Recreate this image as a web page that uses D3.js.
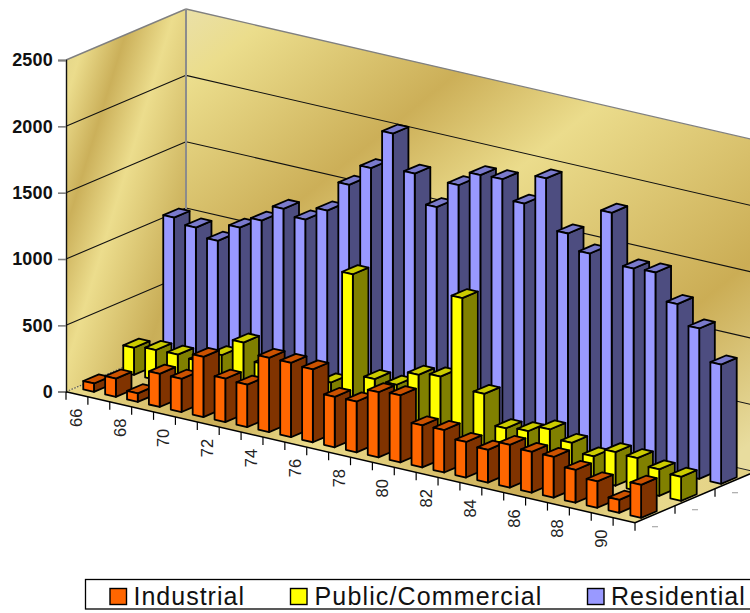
<!DOCTYPE html>
<html>
<head>
<meta charset="utf-8">
<script src="https://cdn.jsdelivr.net/npm/d3@7/dist/d3.min.js"></script>
<style>
  html, body { margin: 0; padding: 0; background: #fff; overflow: hidden; }
  svg { display: block; font-family: "Liberation Sans", Arial, sans-serif; }
</style>
</head>
<body>
<svg id="chart" width="750" height="613"></svg>
<script>
// Annual electricity use by sector, 1966-1991
const years = ["66","67","68","69","70","71","72","73","74","75","76","77","78",
               "79","80","81","82","83","84","85","86","87","88","89","90","91"];
const yearLabels = ["66","68","70","72","74","76","78","80","82","84","86","88","90"];
const valueTicks = [0, 500, 1000, 1500, 2000, 2500];
const sectors = ["Industrial", "Public/Commercial", "Residential"];

const industrial = [63, 138, 65, 250, 250, 453, 327, 320, 560, 560, 549, 380, 383,
                    491, 506, 317, 320, 268, 247, 322, 307, 307, 247, 199, 98, 249];
const publicCommercial = [204, 225, 228, 217, 300, 433, 307, 260, 280, 284, 1138, 386, 381,
                          494, 519, 1148, 464, 243, 259, 310, 247, 183, 253, 246, 199, 181];
const residential = [1057, 1020, 958, 1095, 1186, 1313, 1270, 1376, 1608, 1772, 2070, 1806, 1592,
                     1795, 1909, 1916, 1770, 1998, 1621, 1508, 1853, 1471, 1479, 1279, 1133, 899];

const seriesValues = [industrial, publicCommercial, residential];
const faceColors = [
  { front: "#FF6600", side: "#803300", top: "#CC5200" },
  { front: "#FFFF00", side: "#808000", top: "#CCCC00" },
  { front: "#9999FF", side: "#4D4D80", top: "#7A7ACC" }
];

const svg = d3.select("#chart");

// Oblique projection: u runs along the years, v runs into the depth of the chart
const origin = { x: 66, y: 391.7 };
const uStep = { x: 21.885, y: 5.04 };
const vStep = { x: 120, y: -51 };
const yScale = d3.scaleLinear().domain([0, 2500]).range([origin.y, 60]);
const uScale = d3.scaleBand().domain(years).range([0, years.length]);
const vScale = d3.scaleBand().domain(sectors).range([0, 1]);
const lift = v => origin.y - yScale(v);

function project(u, v, value = 0) {
  return [origin.x + u * uStep.x + v * vStep.x,
          origin.y + u * uStep.y + v * vStep.y - lift(value)];
}
const poly = pts => pts.map(p => p.map(n => n.toFixed(2)).join(",")).join(" ");
const line = (a, b) => `M${a[0]},${a[1]}L${b[0]},${b[1]}`;
const nU = years.length;

// Gold fills for the chart walls and floor
const defs = svg.append("defs");
function gradient(id, [x1, y1, x2, y2], stops) {
  const g = defs.append("linearGradient").attr("id", id)
    .attr("gradientUnits", "userSpaceOnUse")
    .attr("x1", x1).attr("y1", y1).attr("x2", x2).attr("y2", y2);
  stops.forEach(([o, c]) => g.append("stop").attr("offset", o).attr("stop-color", c));
}
gradient("leftWall", [66, 60, 254.5, 117.5], [
  [0, "#E6D88A"], [0.06, "#EBDC8C"], [0.25, "#CBB05A"], [0.456, "#ECDD8D"],
  [0.83, "#C9AE58"], [1, "#D0B860"]
]);
gradient("backWall", [186, 9, 620.7, 548], [
  [0, "#EAE0A8"], [0.086, "#EBDD8C"], [0.318, "#CCAF58"], [0.481, "#EBDC8C"],
  [0.796, "#CBAD55"], [1, "#E8DC9E"]
]);
gradient("floor", [66, 0, 750, 0], [
  [0, "#EBDC8C"], [0.22, "#CBAF58"], [0.36, "#EBDC8C"], [0.67, "#CBAD55"], [0.83, "#E9DA8E"], [1, "#E3D185"]
]);

// Walls and floor
svg.append("polygon").attr("fill", "url(#leftWall)")
  .attr("points", poly([project(0, 0), project(0, 1), project(0, 1, 2500), project(0, 0, 2500)]));
svg.append("polygon").attr("fill", "url(#backWall)")
  .attr("points", poly([project(0, 1), project(nU, 1), project(nU, 1, 2500), project(0, 1, 2500)]));
svg.append("polygon").attr("fill", "url(#floor)")
  .attr("points", poly([project(0, 0), project(nU, 0), project(nU, 1), project(0, 1)]));

// Gridlines on both walls
valueTicks.filter(v => v > 0 && v < 2500).forEach(v => {
  svg.append("path").attr("fill", "none").attr("stroke", "#111").attr("stroke-width", 1.1)
    .attr("d", line(project(0, 0, v), project(0, 1, v)) + line(project(0, 1, v), project(nU, 1, v)));
});
svg.append("path").attr("fill", "none").attr("stroke", "#222").attr("stroke-width", 1)
  .attr("d", line(project(0, 1), project(nU, 1)));

// Wall outlines
svg.append("path").attr("fill", "none").attr("stroke", "#808080").attr("stroke-width", 1.4)
  .attr("d", line(project(0, 0, 2500), project(0, 1, 2500)) + line(project(0, 1, 2500), project(nU, 1, 2500)));
svg.append("path").attr("fill", "none").attr("stroke", "#8c8c8c").attr("stroke-width", 2)
  .attr("d", line(project(0, 1), project(0, 1, 2500)));
svg.append("path").attr("fill", "none").attr("stroke", "#555").attr("stroke-width", 1.2)
  .attr("stroke-dasharray", "1.5 1.5")
  .attr("d", line(project(0, 0), project(0, 1)));

// Floor front and right edges
svg.append("path").attr("fill", "none").attr("stroke", "#000").attr("stroke-width", 1.5)
  .attr("d", line(project(0, 0), project(nU, 0)) + line(project(nU, 0), project(nU, 1)));

// Value axis
const yAxis = d3.axisLeft(yScale).tickValues(valueTicks).tickFormat(d3.format("d"))
  .tickSize(8).tickPadding(5);
const yG = svg.append("g").attr("transform", `translate(${origin.x},0)`).call(yAxis);
yG.select(".domain").attr("stroke", "#111").attr("stroke-width", 1.4);
yG.selectAll(".tick line").attr("stroke", "#808080").attr("stroke-width", 1.6);
yG.selectAll("text").attr("font-family", "Liberation Sans").attr("font-size", 18)
  .attr("font-weight", "bold").attr("fill", "#111").attr("letter-spacing", "0.2px");

// Year ticks and labels along the front edge
const tickLen = 8;
d3.range(nU + 1).forEach(i => {
  const p = project(i, 0);
  svg.append("line").attr("x1", p[0]).attr("y1", p[1]).attr("x2", p[0]).attr("y2", p[1] + tickLen)
    .attr("stroke", "#000").attr("stroke-width", 1.2);
});
yearLabels.forEach(label => {
  const p = project(uScale(label) + 0.5, 0);
  svg.append("text").text(label)
    .attr("transform", `translate(${p[0] - 1},${p[1] + 23.5}) rotate(-90)`)
    .attr("text-anchor", "middle").attr("dy", "0.36em")
    .attr("font-size", 16.5).attr("fill", "#222");
});

// Depth ticks along the right floor edge, with the short grey marks beside them
sectors.forEach(s => {
  const a = project(nU, vScale(s) + vScale.bandwidth());
  svg.append("line").attr("x1", a[0]).attr("y1", a[1]).attr("x2", a[0]).attr("y2", a[1] + tickLen)
    .attr("stroke", "#000").attr("stroke-width", 1.2);
  const m = project(nU, vScale(s) + vScale.bandwidth() / 2);
  svg.append("line").attr("x1", m[0] - 3).attr("y1", m[1] + 12.5).attr("x2", m[0] + 3).attr("y2", m[1] + 12.5)
    .attr("stroke", "#999").attr("stroke-width", 1);
});

// Bars, painted from the back row forward and from left to right in each row
const barU = { start: 0.35, size: 0.49 };
const barV = { start: 0.08, size: 0.13 };
d3.range(sectors.length - 1, -1, -1).forEach(si => {
  const v0 = vScale(sectors[si]) + barV.start;
  const v1 = v0 + barV.size;
  const row = svg.append("g").attr("stroke", "#000").attr("stroke-width", 1.8)
    .attr("stroke-linejoin", "round");
  years.forEach((yr, i) => {
    const u0 = uScale(yr) + barU.start;
    const u1 = u0 + barU.size;
    const h = seriesValues[si][i];
    const c = faceColors[si];
    row.append("polygon").attr("fill", c.side)
      .attr("points", poly([project(u1, v0), project(u1, v1), project(u1, v1, h), project(u1, v0, h)]));
    row.append("polygon").attr("fill", c.top)
      .attr("points", poly([project(u0, v0, h), project(u1, v0, h), project(u1, v1, h), project(u0, v1, h)]));
    row.append("polygon").attr("fill", c.front)
      .attr("points", poly([project(u0, v0), project(u1, v0), project(u1, v0, h), project(u0, v0, h)]));
  });
});

// Legend
const legendItems = [
  { swatch: 110, text: 133.5, spacing: 1 },
  { swatch: 290.5, text: 314.5, spacing: 1.15 },
  { swatch: 587.5, text: 611, spacing: 1 }
];
svg.append("rect").attr("x", 85.5).attr("y", 579.5).attr("width", 700).attr("height", 29.5)
  .attr("fill", "#fff").attr("stroke", "#000").attr("stroke-width", 1.3);
sectors.forEach((s, i) => {
  svg.append("rect").attr("x", legendItems[i].swatch).attr("y", 588.5).attr("width", 16.5).attr("height", 16)
    .attr("fill", faceColors[i].front).attr("stroke", "#000").attr("stroke-width", 1.4);
  svg.append("text").text(s).attr("x", legendItems[i].text).attr("y", 605)
    .attr("font-size", 25).attr("letter-spacing", `${legendItems[i].spacing}px`).attr("fill", "#111");
});
</script>
</body>
</html>
